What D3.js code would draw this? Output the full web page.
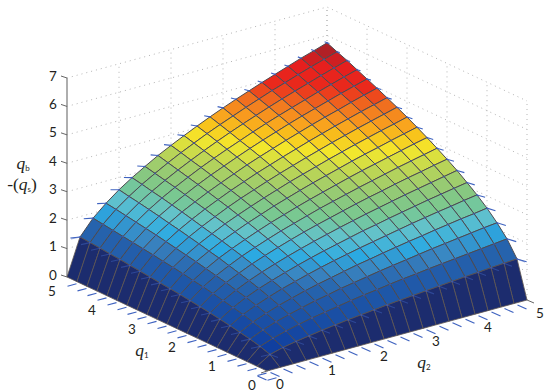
<!DOCTYPE html>
<html>
<head>
<meta charset="utf-8">
<style>
  html, body { margin: 0; padding: 0; background: #fff; }
  svg { display: block; }
  .tick-label { font-family: Lato, sans-serif; font-size: 13.5px; fill: #231f20; text-anchor: middle; dominant-baseline: central; }
  .axis-label { font-family: "Liberation Serif", serif; font-size: 17.5px; fill: #231f20; text-anchor: middle; }
  .axis-label .sub { font-family: Lato, sans-serif; font-size: 8px; font-style: normal; }
</style>
</head>
<body>
<svg id="chart"></svg>
<script src="https://cdn.jsdelivr.net/npm/d3@7"></script>
<script>
const q1Ticks = [0, 1, 2, 3, 4, 5];
const q2Ticks = [0, 1, 2, 3, 4, 5];
const zTicks = [0, 1, 2, 3, 4, 5, 6, 7];
const qGrid = [0, 0.25, 0.5, 0.75, 1, 1.25, 1.5, 1.75, 2, 2.25, 2.5, 2.75, 3, 3.25, 3.5, 3.75, 4, 4.25, 4.5, 4.75, 5];

// surface height, one row per q1 value, columns are q2
const zRows = [
  [0,0,0,0,0,0,0,0,0,0,0,0,0,0,0,0,0,0,0,0,0],
  [0,.29,.41,.50,.57,.64,.70,.76,.81,.86,.91,.95,.99,1.03,1.07,1.11,1.15,1.18,1.22,1.25,1.28],
  [0,.41,.57,.70,.81,.91,.99,1.07,1.15,1.22,1.28,1.35,1.41,1.46,1.52,1.57,1.62,1.67,1.72,1.77,1.82],
  [0,.50,.70,.86,.99,1.11,1.22,1.31,1.41,1.49,1.57,1.65,1.72,1.79,1.86,1.93,1.99,2.05,2.11,2.17,2.22],
  [0,.57,.81,.99,1.15,1.28,1.41,1.52,1.62,1.72,1.82,1.90,1.99,2.07,2.15,2.22,2.30,2.37,2.44,2.50,2.57],
  [0,.64,.91,1.11,1.28,1.44,1.57,1.70,1.82,1.93,2.03,2.13,2.22,2.31,2.40,2.49,2.57,2.65,2.72,2.80,2.87],
  [0,.70,.99,1.22,1.41,1.57,1.72,1.86,1.99,2.11,2.22,2.33,2.44,2.53,2.63,2.72,2.81,2.90,2.98,3.06,3.14],
  [0,.76,1.07,1.31,1.52,1.70,1.86,2.01,2.15,2.28,2.40,2.52,2.63,2.74,2.84,2.94,3.04,3.13,3.22,3.31,3.40],
  [0,.81,1.15,1.41,1.62,1.82,1.99,2.15,2.30,2.44,2.57,2.69,2.81,2.93,3.04,3.14,3.25,3.35,3.44,3.54,3.63],
  [0,.86,1.22,1.49,1.72,1.93,2.11,2.28,2.44,2.58,2.72,2.86,2.98,3.10,3.22,3.33,3.44,3.55,3.65,3.75,3.85],
  [0,.91,1.28,1.57,1.82,2.03,2.22,2.40,2.57,2.72,2.87,3.01,3.14,3.27,3.40,3.52,3.63,3.74,3.85,3.96,4.06],
  [0,.95,1.35,1.65,1.90,2.13,2.33,2.52,2.69,2.86,3.01,3.16,3.30,3.43,3.56,3.69,3.81,3.92,4.04,4.15,4.26],
  [0,.99,1.41,1.72,1.99,2.22,2.44,2.63,2.81,2.98,3.14,3.30,3.44,3.58,3.72,3.85,3.98,4.10,4.22,4.33,4.45],
  [0,1.03,1.46,1.79,2.07,2.31,2.53,2.74,2.93,3.10,3.27,3.43,3.58,3.73,3.87,4.01,4.14,4.27,4.39,4.51,4.63],
  [0,1.07,1.52,1.86,2.15,2.40,2.63,2.84,3.04,3.22,3.40,3.56,3.72,3.87,4.02,4.16,4.30,4.43,4.56,4.68,4.80],
  [0,1.11,1.57,1.93,2.22,2.49,2.72,2.94,3.14,3.33,3.52,3.69,3.85,4.01,4.16,4.31,4.45,4.58,4.72,4.85,4.97],
  [0,1.15,1.62,1.99,2.30,2.57,2.81,3.04,3.25,3.44,3.63,3.81,3.98,4.14,4.30,4.45,4.59,4.73,4.87,5.00,5.13],
  [0,1.18,1.67,2.05,2.37,2.65,2.90,3.13,3.35,3.55,3.74,3.92,4.10,4.27,4.43,4.58,4.73,4.88,5.02,5.16,5.29],
  [0,1.22,1.72,2.11,2.44,2.72,2.98,3.22,3.44,3.65,3.85,4.04,4.22,4.39,4.56,4.72,4.87,5.02,5.17,5.31,5.45],
  [0,1.25,1.77,2.17,2.50,2.80,3.06,3.31,3.54,3.75,3.96,4.15,4.33,4.51,4.68,4.85,5.00,5.16,5.31,5.45,5.59],
  [0,1.28,1.82,2.22,2.57,2.87,3.14,3.40,3.63,3.85,4.06,4.26,4.45,4.63,4.80,4.97,5.13,5.29,5.45,5.59,5.74]
];

const colorStops = [0, .05, .125, .22, .27, .317, .383, .446, .5, .577, .645, .69, .73, .785, .84, .905, .95, 1];
const colorValues = ['#1c2c6e', '#103f9f', '#1a50a5', '#2663ad', '#3a85c0', '#2ba9e2', '#62c2cc', '#78c892',
  '#8cc87c', '#b8d458', '#f4e82c', '#f8c41c', '#f99e1e', '#f0701f', '#ea2a1c', '#e61e1e', '#b02026', '#a01f25'];

const W = 550, H = 392;
const svg = d3.select('#chart').attr('width', W).attr('height', H).attr('viewBox', `0 0 ${W} ${H}`);

// oblique projection, each data axis adds its own screen offset
const q1X = d3.scaleLinear().domain([0, 5]).range([267, 67]);
const q1Y = d3.scaleLinear().domain([0, 5]).range([371, 277]);
const q2X = d3.scaleLinear().domain([0, 5]).range([0, 260]);
const q2Y = d3.scaleLinear().domain([0, 5]).range([0, -71]);
const zY = d3.scaleLinear().domain([0, 7]).range([0, -199]);

const px = (a, b) => q1X(a) + q2X(b);
const py = (a, b, z) => q1Y(a) + q2Y(b) + zY(z);

const zMax = d3.max(zRows, r => d3.max(r));
const color = d3.scaleLinear().domain(colorStops.map(s => s * zMax)).range(colorValues);
const line = d3.line();

// back walls
const walls = svg.append('g').attr('fill', 'none').attr('stroke', '#b5b5b5')
  .attr('stroke-width', 1).attr('stroke-dasharray', '1 4');
zTicks.forEach(z => {
  walls.append('path').attr('d', line([[px(5, 0), py(5, 0, z)], [px(5, 5), py(5, 5, z)], [px(0, 5), py(0, 5, z)]]));
});
q2Ticks.slice(1).forEach(q => {
  walls.append('path').attr('d', line([[px(5, q), py(5, q, 0)], [px(5, q), py(5, q, 7)]]));
});
q1Ticks.forEach(q => {
  walls.append('path').attr('d', line([[px(q, 5), py(q, 5, 0)], [px(q, 5), py(q, 5, 7)]]));
});

// z axis line
svg.append('path').attr('d', line([[px(5, 0), py(5, 0, 0)], [px(5, 0), py(5, 0, 7)]]))
  .attr('stroke', '#9a9a9a').attr('stroke-width', 1.6);

// ticks below the floor edges
const dashes = svg.append('g').attr('stroke', '#3f63c0').attr('stroke-width', 1.1).attr('fill', 'none');
qGrid.forEach(q => {
  const ax = px(q, 0) + 5, ay = py(q, 0, 0) + 8;
  dashes.append('path').attr('d', line([[ax - 4.5, ay + 1.2], [ax + 4.5, ay - 1.2]]));
  const bx = px(0, q) - 5, by = py(0, q, 0) + 7;
  dashes.append('path').attr('d', line([[bx - 4.5, by - 2], [bx + 4.5, by + 2]]));
});

// surface cells, back to front, coloured by their low corner like flat shading
const surface = svg.append('g').attr('stroke-linejoin', 'round');
for (let i = qGrid.length - 2; i >= 0; i--) {
  for (let j = qGrid.length - 2; j >= 0; j--) {
    const corners = [[i, j], [i + 1, j], [i + 1, j + 1], [i, j + 1]]
      .map(([a, b]) => [px(qGrid[a], qGrid[b]), py(qGrid[a], qGrid[b], zRows[a][b])]);
    const skirt = i === 0 || j === 0;
    surface.append('path').attr('d', line(corners) + 'Z')
      .attr('fill', color(zRows[i][j]))
      .attr('stroke', skirt ? '#5e5650' : '#4c4a50')
      .attr('stroke-width', skirt ? 0.8 : 1);
  }
}

// blue marks at the vertices and along the outer edges of the surface
const last = qGrid.length - 1;
const marks = svg.append('g').attr('stroke', '#3f63c0').attr('fill', 'none').attr('stroke-width', 1.1);
for (let k = 1; k <= last; k++) {
  const len = 10 - 0.38 * k;
  const lx = px(5, qGrid[k]), ly = py(5, qGrid[k], zRows[last][k]);
  marks.append('path').attr('d', line([[lx, ly], [lx - len, ly + len * (0.13 - 0.03 * k)]]));
  const rx = px(qGrid[k], 5), ry = py(qGrid[k], 5, zRows[k][last]);
  marks.append('path').attr('d', line([[rx, ry], [rx + len, ry + len * 0.3]]));
  // faint dashes where the first row meets the steep skirt
  const sx = px(qGrid[k], qGrid[1]), sy = py(qGrid[k], qGrid[1], zRows[k][1]);
  marks.append('path').attr('d', line([[sx, sy], [sx - 9, sy + 2]])).attr('opacity', 0.5);
  const tx = px(qGrid[1], qGrid[k]), ty = py(qGrid[1], qGrid[k], zRows[1][k]);
  marks.append('path').attr('d', line([[tx, ty], [tx + 8, ty + 3]])).attr('opacity', 0.5);
}
const dots = svg.append('g').attr('fill', '#3f5cc0');
qGrid.forEach((a, i) => qGrid.forEach((b, j) => {
  if (i === 0 || j === 0) return;
  dots.append('circle').attr('cx', px(a, b)).attr('cy', py(a, b, zRows[i][j])).attr('r', 0.9).attr('opacity', 0.75);
}));

// little axis ticks at the corners
const cornerTicks = svg.append('g').attr('stroke', '#666').attr('stroke-width', 1).attr('fill', 'none');
zTicks.forEach(z => {
  const y = py(5, 0, z);
  cornerTicks.append('path').attr('d', line([[px(5, 0) - 6, y - 2], [px(5, 0), y]]));
});
cornerTicks.append('path').attr('d', line([[px(0, 0) - 6, py(0, 0, 0) + 2], [px(0, 0) + 3, py(0, 0, 0) - 1]]));
cornerTicks.append('path').attr('d', line([[px(0, 5), py(0, 5, 0)], [px(0, 5) + 7, py(0, 5, 0) + 3]]));

// tick labels
const labels = svg.append('g');
zTicks.forEach(z => {
  labels.append('text').attr('class', 'tick-label').attr('x', 53).attr('y', py(5, 0, z) - 2.5).text(z);
});
q1Ticks.forEach(q => {
  labels.append('text').attr('class', 'tick-label').attr('x', px(q, 0) - 15).attr('y', py(q, 0, 0) + 14).text(q);
});
q2Ticks.forEach(q => {
  labels.append('text').attr('class', 'tick-label').attr('x', px(0, q) + 13).attr('y', py(0, q, 0) + 13).text(q);
});

// axis titles
function axisTitle(x, y, parts) {
  const t = svg.append('text').attr('class', 'axis-label').attr('x', x).attr('y', y);
  parts.forEach(p => {
    const s = t.append('tspan').text(p.text);
    if (p.italic) s.attr('font-style', 'italic');
    if (p.sub) s.attr('class', 'sub').attr('dy', 2);
    if (p.up) s.attr('dy', -2);
  });
}
axisTitle(142, 356, [{ text: 'q', italic: true }, { text: '1', sub: true }]);
axisTitle(424, 368, [{ text: 'q', italic: true }, { text: '2', sub: true }]);
axisTitle(23, 169, [{ text: 'q', italic: true }, { text: 'b', sub: true }]);
axisTitle(22, 190, [{ text: '-(' }, { text: 'q', italic: true }, { text: 's', sub: true }, { text: ')', up: true }]);
</script>
</body>
</html>
